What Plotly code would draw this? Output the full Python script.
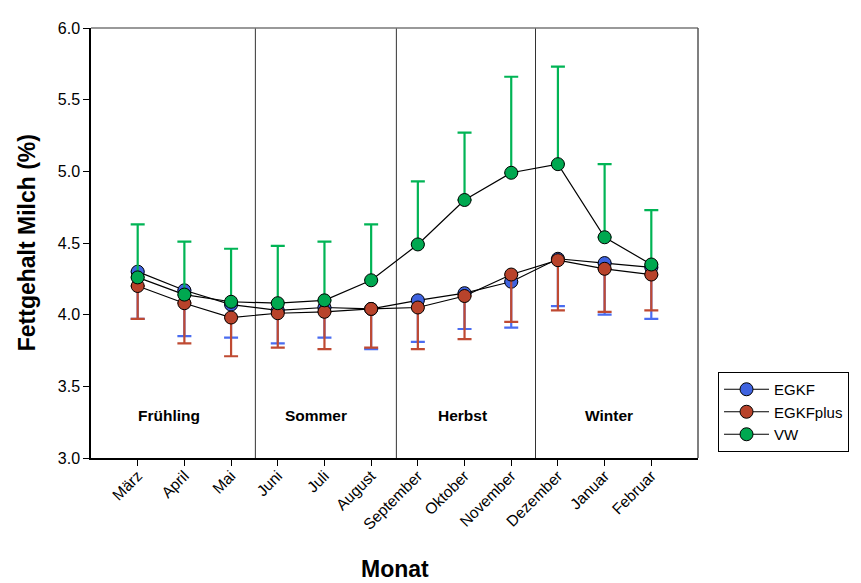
import plotly.graph_objects as go

months = ["März", "April", "Mai", "Juni", "Juli", "August", "September",
          "Oktober", "November", "Dezember", "Januar", "Februar"]

egkf = [4.30, 4.17, 4.07, 4.03, 4.05, 4.04, 4.10, 4.15, 4.23, 4.39, 4.36, 4.33]
egkf_low = [3.97, 3.85, 3.84, 3.80, 3.84, 3.76, 3.81, 3.90, 3.91, 4.06, 4.00, 3.97]

egkfplus = [4.20, 4.08, 3.98, 4.01, 4.02, 4.04, 4.05, 4.13, 4.28, 4.38, 4.32, 4.28]
egkfplus_low = [3.97, 3.80, 3.71, 3.77, 3.76, 3.77, 3.76, 3.83, 3.95, 4.03, 4.02, 4.03]

vw = [4.26, 4.14, 4.09, 4.08, 4.10, 4.24, 4.49, 4.80, 4.99, 5.05, 4.54, 4.35]
vw_high = [4.63, 4.51, 4.46, 4.48, 4.51, 4.63, 4.93, 5.27, 5.66, 5.73, 5.05, 4.73]

seasons = ["Frühling", "Sommer", "Herbst", "Winter"]
season_x = [0.68, 3.81, 6.96, 10.1]
season_breaks = [2.52, 5.54, 8.52]

FONT = "Arial, Liberation Sans, sans-serif"

fig = go.Figure()

def add_series(name, y, low, high, mcol, ecol):
    minus = [v - l for v, l in zip(y, low)] if low else [0] * len(y)
    plus = [h - v for v, h in zip(y, high)] if high else [0] * len(y)
    fig.add_trace(go.Scatter(
        x=months, y=y, name=name, mode="lines+markers",
        line=dict(color="black", width=1.2),
        marker=dict(size=13, color=mcol, line=dict(color="black", width=1)),
        error_y=dict(type="data", symmetric=False, array=plus, arrayminus=minus,
                     color=ecol, thickness=2.2, width=7),
    ))

add_series("EGKF", egkf, egkf_low, None, "#3f63e0", "#4a6cf0")
add_series("EGKFplus", egkfplus, egkfplus_low, None, "#b8432b", "#bf4a32")
add_series("VW", vw, None, vw_high, "#00a850", "#00b455")

shapes = []
for b in season_breaks:
    shapes.append(dict(type="line", xref="x", yref="paper", x0=b, x1=b, y0=0, y1=1,
                       line=dict(color="#333333", width=1), layer="below"))
shapes.append(dict(type="line", xref="paper", yref="paper", x0=0, x1=1, y0=1, y1=1,
                   line=dict(color="#777777", width=1.5)))
shapes.append(dict(type="line", xref="paper", yref="paper", x0=1, x1=1, y0=0, y1=1,
                   line=dict(color="#555555", width=1.5)))

annotations = []
for s, sx in zip(seasons, season_x):
    annotations.append(dict(x=sx, y=3.30, xref="x", yref="y", text=s, showarrow=False,
                            font=dict(family=FONT, size=15.5, color="black", weight="bold")))
annotations.append(dict(x=0.5, y=-0.258, xref="paper", yref="paper", text="Monat",
                        showarrow=False, yanchor="middle",
                        font=dict(family=FONT, size=23, color="black", weight="bold")))
annotations.append(dict(x=-0.105, y=0.5, xref="paper", yref="paper",
                        text="Fettgehalt Milch (%)", showarrow=False, textangle=-90,
                        xanchor="center", yanchor="middle",
                        font=dict(family=FONT, size=23, color="black", weight="bold")))

# the page body has an 8px margin; compensate so the plot area lands where the reference has it
fig.update_layout(
    width=853, height=575,
    margin=dict(l=83, r=163, t=12, b=125, pad=0),
    plot_bgcolor="white", paper_bgcolor="white",
    font=dict(family=FONT, size=15.5, color="black"),
    shapes=shapes, annotations=annotations,
    showlegend=True,
    legend=dict(x=1.033, y=0.2, xanchor="left", yanchor="top",
                bordercolor="black", borderwidth=1, bgcolor="white",
                font=dict(family=FONT, size=15, color="black"),
                itemwidth=45, tracegroupgap=0),
    xaxis=dict(type="category", range=[-1, 12], showgrid=False, zeroline=False,
               showline=True, linecolor="black", linewidth=1.5,
               ticks="outside", ticklen=6, tickcolor="black", tickangle=-45,
               ticklabelstandoff=-5,
               tickfont=dict(family=FONT, size=15.5, color="black")),
    yaxis=dict(range=[3, 6], showgrid=False, zeroline=False,
               showline=True, linecolor="black", linewidth=1.5,
               ticks="outside", ticklen=6, tickcolor="black",
               tickvals=[3.0, 3.5, 4.0, 4.5, 5.0, 5.5, 6.0], tickformat=".1f",
               tickfont=dict(family=FONT, size=16, color="black")),
)

fig.write_html("out.html")
